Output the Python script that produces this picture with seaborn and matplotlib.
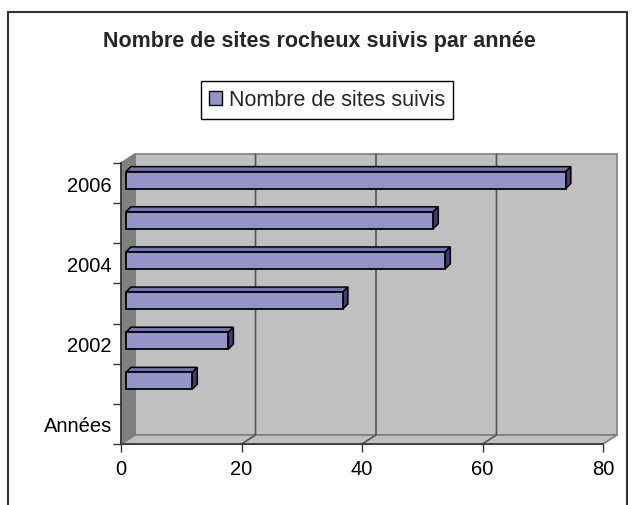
import numpy as np
import pandas as pd
import matplotlib.pyplot as plt
import seaborn as sns
from matplotlib.patches import Polygon, Rectangle, Patch
from matplotlib.lines import Line2D
from matplotlib.transforms import offset_copy, IdentityTransform

# Data
years = ['2001', '2002', '2003', '2004', '2005', '2006']
sites = [11, 17, 36, 53, 51, 73]
order = ['2006', '2005', '2004', '2003', '2002', '2001', 'Années']
shown_labels = ['2006', '2004', '2002', 'Années']
shown_pos = [0, 2, 4, 6]
x_ticks = [0, 20, 40, 60, 80]

# Colours
FRONT = '#9494C8'
TOP = '#7474B0'
SIDE = '#3E3E72'
WALL = '#C0C0C0'
SIDE_WALL = '#808080'
GRID = '#555555'

sns.set_theme(style='white')
plt.rcParams['font.family'] = ['Liberation Sans', 'DejaVu Sans']

W, H = 632, 506
fig = plt.figure(figsize=(W / 100, H / 100), dpi=100)
ax = fig.add_axes([121 / W, 1 - 445 / H, 482 / W, 281 / H])
ax.set_facecolor('none')

df = pd.DataFrame({'annee': years, 'sites': sites})
sns.barplot(data=df, x='sites', y='annee', order=order, orient='h',
            color=FRONT, saturation=1, width=0.42, edgecolor='black',
            linewidth=1.3, ax=ax, zorder=3)
ax.set_xlim(0, 80)
ax.set_ylim(6.5, -0.5)

# 3D depth offsets in pixels
WALL_D = (14, 9)
BAR_F = (5, 3)
BAR_D = (5, 5)


def to_px(x, y, off=(0, 0)):
    p = ax.transData.transform((x, y))
    return (p[0] + off[0], p[1] + off[1])


ident = IdentityTransform()
y_lo, y_hi = 6.5, -0.5

# walls and floor (figure-level, behind the transparent axes)
left_wall = [to_px(0, y_lo), to_px(0, y_hi), to_px(0, y_hi, WALL_D), to_px(0, y_lo, WALL_D)]
back_wall = [to_px(0, y_lo, WALL_D), to_px(80, y_lo, WALL_D), to_px(80, y_hi, WALL_D), to_px(0, y_hi, WALL_D)]
floor = [to_px(0, y_lo), to_px(80, y_lo), to_px(80, y_lo, WALL_D), to_px(0, y_lo, WALL_D)]
for pts, fc in [(back_wall, WALL), (floor, WALL), (left_wall, SIDE_WALL)]:
    fig.add_artist(Polygon(pts, closed=True, facecolor=fc, edgecolor=SIDE_WALL,
                           lw=1.2, transform=ident, zorder=-3))

for v in x_ticks[1:-1]:
    pts = np.array([to_px(v, y_lo), to_px(v, y_lo, WALL_D), to_px(v, y_hi, WALL_D)])
    fig.add_artist(Line2D(pts[:, 0], pts[:, 1], color=GRID, lw=1.2,
                          transform=ident, zorder=-2))

# bars: shift seaborn's faces back a little and add top / side faces
front_tr = offset_copy(ax.transData, fig=fig, x=BAR_F[0], y=BAR_F[1], units='dots')
for p in list(ax.patches):
    w = p.get_width()
    if not np.isfinite(w) or w == 0:
        continue
    x0, y0, h = p.get_x(), p.get_y(), p.get_height()
    p.set_transform(front_tr)
    tl = np.array(to_px(x0, y0, BAR_F))
    tr = np.array(to_px(x0 + w, y0, BAR_F))
    br = np.array(to_px(x0 + w, y0 + h, BAR_F))
    d = np.array(BAR_D)
    ax.add_artist(Polygon([tl, tr, tr + d, tl + d], closed=True, facecolor=TOP,
                          edgecolor='black', lw=1.1, transform=ident, zorder=2.9,
                          clip_on=False))
    ax.add_artist(Polygon([tr, br, br + d, tr + d], closed=True, facecolor=SIDE,
                          edgecolor='black', lw=1.1, transform=ident, zorder=2.9,
                          clip_on=False))

# axes, ticks and labels
ax.set_xlabel('')
ax.set_ylabel('')
ax.set_xticks(x_ticks)
ax.set_yticks(shown_pos, shown_labels)
ax.set_yticks(np.arange(-0.5, 7, 1), minor=True)
ax.tick_params(axis='x', bottom=True, length=6, width=1, color='#333333',
               labelsize=14.5, pad=5, labelcolor='black')
ax.tick_params(axis='y', which='major', left=True, length=0, labelsize=14.5,
               pad=6.5, labelcolor='black')
ax.tick_params(axis='y', which='minor', left=True, length=6, width=1, color='#333333')
for side in ['top', 'right']:
    ax.spines[side].set_visible(False)
for side in ['left', 'bottom']:
    ax.spines[side].set_visible(True)
    ax.spines[side].set_color('#333333')
    ax.spines[side].set_linewidth(1.2)

fig.text(319 / W, 1 - 42 / H, 'Nombre de sites rocheux suivis par année',
         ha='center', va='center', fontsize=15.5, fontweight='bold')

leg = fig.legend(handles=[Patch(facecolor=FRONT, edgecolor='black', lw=1)],
                 labels=['Nombre de sites suivis'], loc='center',
                 bbox_to_anchor=(327 / W, 1 - 101 / H), fontsize=15.5,
                 frameon=True, fancybox=False, edgecolor='black', framealpha=1,
                 handlelength=0.6, handleheight=0.6, handletextpad=0.35,
                 borderpad=0.38, borderaxespad=0)
leg.get_frame().set_linewidth(1)

# outer chart frame
fig.add_artist(Rectangle((8 / W, -0.05), (627 - 8) / W, 1.05 - 13 / H,
                         transform=fig.transFigure, fill=False,
                         edgecolor='#333333', lw=1.5))

fig.savefig('out.png', dpi=100)
